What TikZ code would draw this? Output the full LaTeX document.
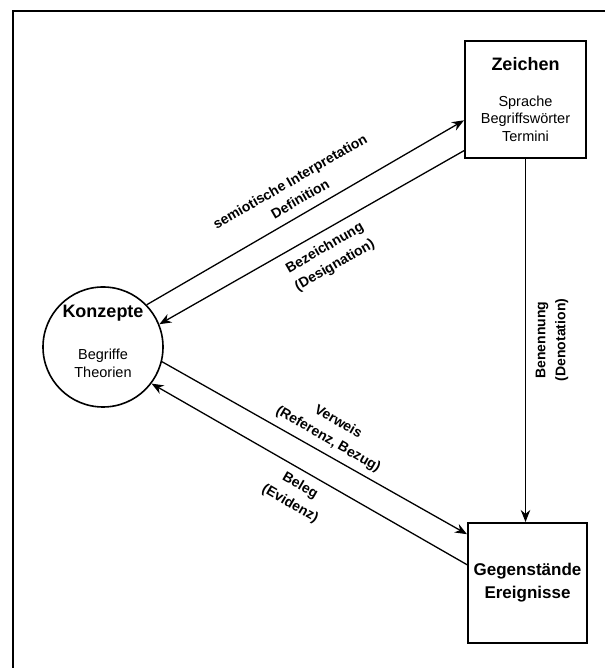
\documentclass[tikz,border=0pt]{standalone}
\usepackage{fontspec}
\setmainfont{Liberation Sans}
\usetikzlibrary{arrows.meta,calc}

\begin{document}
\begin{tikzpicture}[x=1pt,y=1pt,
  box/.style={draw, line width=2pt, align=center, inner sep=0pt,
    font=\fontsize{14.5}{17.5}\selectfont},
  ring/.style={draw, circle, line width=1.6pt, align=center, inner sep=0pt,
    minimum size=120pt, font=\fontsize{14.5}{18}\selectfont},
  arr/.style={line width=1.3pt, -{Stealth[length=12pt,width=9.5pt]}},
  lbl/.style={align=center, inner sep=0pt,
    font=\fontsize{14}{20}\selectfont\bfseries}]
\useasboundingbox (0,0) rectangle (604,668);

% outer frame (only its left and top sides lie on the page)
\draw[line width=2.8pt] (13,-20) -- (13,657) -- (630,657);

% the three corners of the triangle
\node[box, minimum width=121pt, minimum height=117pt] (Z) at (525.5,568.5)
  {{\fontsize{18}{20}\selectfont\bfseries Zeichen}\\[18pt]Sprache\\Begriffswörter\\Termini};
\node[ring, text depth=12pt] (K) at (103,321)
  {{\fontsize{18}{20}\selectfont\bfseries Konzepte}\\[24pt]Begriffe\\Theorien};
\node[box, minimum width=119pt, minimum height=120pt,
      font=\fontsize{17}{23}\selectfont\bfseries] (G) at (527.5,85)
  {Gegenstände\\Ereignisse};

% connectors
\draw[arr] (K.44) -- ($(Z.north west)!0.675!(Z.south west)$);
\draw[arr] ($(Z.north west)!0.93!(Z.south west)$) -- (K.22.6);
\draw[arr] (K.-14) -- ($(G.north west)!0.1!(G.south west)$);
\draw[arr] ($(G.north west)!0.35!(G.south west)$) -- (K.-37.5);
\draw[arr] (Z.south) -- (Z.south |- G.north);

% connector labels
\node[lbl, rotate=30] (l1) at (295,478) {semiotische Interpretation\\Definition};
\node[lbl, rotate=30] (l2) at (330,411) {Bezeichnung\\(Designation)};
\node[lbl, rotate=-30] (l3) at (333,237) {Verweis\\(Referenz, Bezug)};
\node[lbl, rotate=-30] (l4) at (295,173) {Beleg\\(Evidenz)};
\node[lbl, rotate=90] (l5) at (552,328) {Benennung\\(Denotation)};
\end{tikzpicture}
\end{document}
